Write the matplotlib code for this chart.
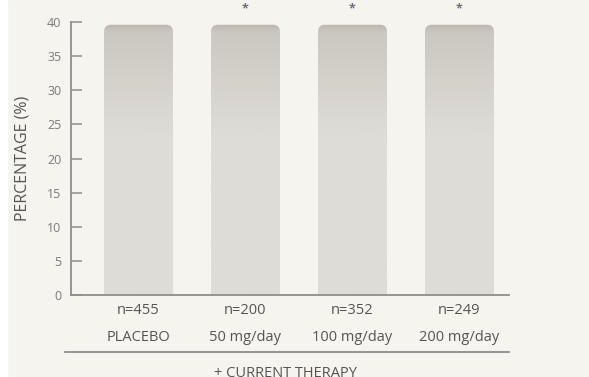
import numpy as np
import matplotlib
matplotlib.use("Agg")
import matplotlib.pyplot as plt
from matplotlib.patches import FancyBboxPatch, Rectangle
from matplotlib.transforms import blended_transform_factory

# data
categories = ["PLACEBO", "50 mg/day", "100 mg/day", "200 mg/day"]
n_labels = ["n=455", "n=200", "n=352", "n=249"]
percentages = [39.6, 39.6, 39.6, 39.6]
significant = [False, True, True, True]
y_ticks = [0, 5, 10, 15, 20, 25, 30, 35, 40]

BG = "#F5F4EF"
BAR_TOP = "#CBC8C1"
BAR_BOT = "#DEDCD6"
AXIS = "#8E8E8E"
TXT = "#555555"
TICK_TXT = "#7A7A7A"

plt.rcParams["font.family"] = ["Open Sans", "DejaVu Sans"]

fig = plt.figure(figsize=(5.89, 3.77), dpi=100, facecolor=BG)
fig.patches.append(Rectangle((0, 0), 7 / 589, 1, transform=fig.transFigure,
                             color="white", zorder=0))
ax = fig.add_axes([71 / 589, 82 / 377, 438 / 589, 273 / 377])
ax.set_facecolor(BG)

x = np.arange(len(categories))
width = 0.645
bars = ax.bar(x, percentages, width, color=BAR_BOT, zorder=2)

# rounded tops with a soft vertical gradient
grad = np.linspace(0, 1, 256).reshape(-1, 1)
cmap = matplotlib.colors.LinearSegmentedColormap.from_list(
    "bar", [(0, BAR_BOT), (0.6, BAR_BOT), (0.97, BAR_TOP), (1, "#BDB9B1")])
for b in bars:
    b.set_visible(False)
    bx, bw, bh = b.get_x(), b.get_width(), b.get_height()
    patch = FancyBboxPatch((bx, -3), bw, bh + 3,
                           boxstyle="round,pad=0,rounding_size=0.065",
                           mutation_aspect=15.7, facecolor="none",
                           edgecolor="none", zorder=2)
    ax.add_patch(patch)
    im = ax.imshow(grad, extent=(bx, bx + bw, 0, bh), origin="lower",
                   cmap=cmap, aspect="auto", zorder=2)
    im.set_clip_path(patch)

ax.set_xlim(-0.631, 3.463)
ax.set_ylim(0, 40)
ax.set_yticks(y_ticks)
ax.set_xticks([])
ax.tick_params(axis="y", direction="in", length=7.9, width=1.1, color=AXIS,
               labelcolor=TICK_TXT, labelsize=9, pad=7)
for s in ["top", "right"]:
    ax.spines[s].set_visible(False)
for s in ["left", "bottom"]:
    ax.spines[s].set_color(AXIS)
    ax.spines[s].set_linewidth(1.3)
ax.set_ylabel("PERCENTAGE (%)", color=TXT, fontsize=11.5, labelpad=12)

trans = blended_transform_factory(ax.transData, ax.transAxes)
for xi, n, cat, sig in zip(x, n_labels, categories, significant):
    ax.text(xi, -0.055, n, transform=trans, ha="center", va="center",
            color=TXT, fontsize=10.5)
    ax.text(xi, -0.1575, cat, transform=trans, ha="center", va="center",
            color=TXT, fontsize=10.5)
    if sig:
        ax.text(xi, 1.047, "*", transform=trans, ha="center", va="center",
                color="#6B6E78", fontsize=9, fontweight="bold", clip_on=False)

ax.plot([-0.0137, 1], [-0.2088, -0.2088], transform=ax.transAxes,
        color=AXIS, lw=1.3, clip_on=False)
ax.text(0.49, -0.287, "+ CURRENT THERAPY", transform=ax.transAxes,
        ha="center", va="center", color=TXT, fontsize=10.5)

fig.savefig("out.png", dpi=100, facecolor=BG)
